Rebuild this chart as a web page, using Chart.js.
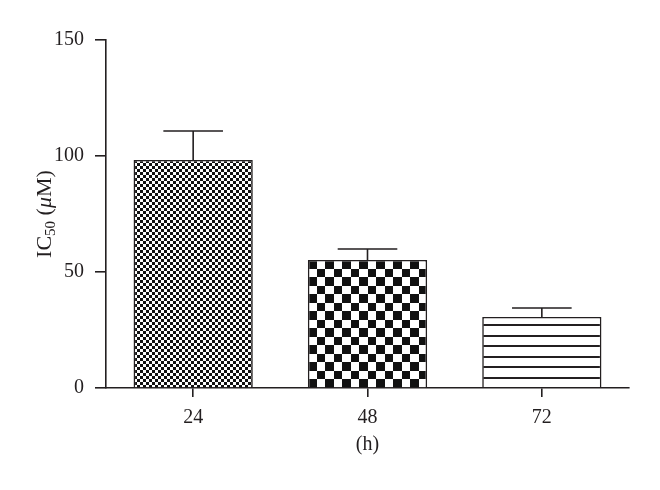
<!DOCTYPE html>
<html>
<head>
<meta charset="utf-8">
<script src="https://cdn.jsdelivr.net/npm/chart.js@4/dist/chart.umd.min.js"></script>
<style>
  body { margin: 0; background: #fff; }
  #wrap { width: 660px; height: 490px; }
</style>
</head>
<body>
<div id="wrap"><canvas id="ic50Chart"></canvas></div>
<script>
// data
const hours = ['24', '48', '72'];
const ic50 = [98.3, 55.2, 30.6];
const ic50Err = [12.5, 4.7, 3.9];
const yTicks = [0, 50, 100, 150];

const ink = '#231f20';
const serif = '"Liberation Serif", "DejaVu Serif", serif';

// fill patterns for the three bars
function checker(size) {
  const c = document.createElement('canvas');
  c.width = c.height = size * 2;
  const g = c.getContext('2d');
  g.fillStyle = '#fff';
  g.fillRect(0, 0, c.width, c.height);
  g.fillStyle = '#111';
  g.fillRect(0, 0, size, size);
  g.fillRect(size, size, size, size);
  return g.createPattern(c, 'repeat');
}

function coarseChecker() {
  // 17px tile, squares of 8 and 9 px -> 8.5 px on average
  const c = document.createElement('canvas');
  c.width = c.height = 17;
  const g = c.getContext('2d');
  g.fillStyle = '#fff';
  g.fillRect(0, 0, 17, 17);
  g.fillStyle = '#111';
  g.fillRect(0, 0, 9, 9);
  g.fillRect(9, 9, 8, 8);
  return g.createPattern(c, 'repeat');
}

function hLines() {
  const c = document.createElement('canvas');
  c.width = 4;
  c.height = 21;
  const g = c.getContext('2d');
  g.fillStyle = '#fff';
  g.fillRect(0, 0, 4, 21);
  g.fillStyle = ink;
  g.fillRect(0, 0, 4, 2);
  g.fillRect(0, 11, 4, 2);
  return g.createPattern(c, 'repeat');
}

const patterns = [checker(3), coarseChecker(), hLines()];

// line the patterns up with the bar edges and baseline
const patternAlign = {
  id: 'patternAlign',
  beforeDatasetsDraw(chart) {
    const y0 = Math.round(chart.scales.y.getPixelForValue(0));
    const bars = chart.getDatasetMeta(0).data;
    patterns.forEach((p, i) => {
      const left = Math.round(bars[i].x - bars[i].width / 2);
      const top = Math.round(bars[i].y);
      const dy = i === 2 ? y0 - 1 : top;
      p.setTransform(new DOMMatrix().translate(left, dy));
    });
  }
};

// upper error whiskers only
const errorBars = {
  id: 'errorBars',
  afterDatasetsDraw(chart) {
    const ctx = chart.ctx;
    const y = chart.scales.y;
    const bars = chart.getDatasetMeta(0).data;
    ctx.save();
    ctx.strokeStyle = ink;
    ctx.lineWidth = 1.6;
    bars.forEach((bar, i) => {
      const top = y.getPixelForValue(ic50[i] + ic50Err[i]);
      const half = bar.width / 4;
      ctx.beginPath();
      ctx.moveTo(bar.x, bar.y);
      ctx.lineTo(bar.x, top);
      ctx.moveTo(bar.x - half, top);
      ctx.lineTo(bar.x + half, top);
      ctx.stroke();
    });
    ctx.restore();
  }
};

// y title with subscript and italic mu
const yTitle = {
  id: 'yTitle',
  afterDraw(chart) {
    const ctx = chart.ctx;
    const area = chart.chartArea;
    const parts = [
      { t: 'IC', f: '22px ' + serif, dy: 0 },
      { t: '50', f: '15px ' + serif, dy: 4 },
      { t: ' (', f: '22px ' + serif, dy: 0 },
      { t: 'μ', f: 'italic 22px ' + serif, dy: 0 },
      { t: 'M)', f: '22px ' + serif, dy: 0 }
    ];
    let total = 0;
    parts.forEach(p => { ctx.font = p.f; p.w = ctx.measureText(p.t).width; total += p.w; });
    ctx.save();
    ctx.translate(51, (area.top + area.bottom) / 2);
    ctx.rotate(-Math.PI / 2);
    ctx.fillStyle = ink;
    ctx.textBaseline = 'alphabetic';
    let x = -total / 2;
    parts.forEach(p => {
      ctx.font = p.f;
      ctx.fillText(p.t, x, p.dy);
      x += p.w;
    });
    ctx.restore();
  }
};

const ctx = document.getElementById('ic50Chart').getContext('2d');
new Chart(ctx, {
  type: 'bar',
  data: {
    labels: hours,
    datasets: [{
      data: ic50,
      backgroundColor: patterns,
      borderColor: ink,
      borderWidth: 1.6,
      categoryPercentage: 1,
      barPercentage: 0.684
    }]
  },
  options: {
    responsive: true,
    maintainAspectRatio: false,
    animation: false,
    events: [],
    layout: { padding: { left: 0, right: 31, top: 40, bottom: 0 } },
    plugins: {
      legend: { display: false },
      tooltip: { enabled: false }
    },
    scales: {
      x: {
        afterFit(scale) { scale.height = 102; },
        grid: {
          display: true,
          drawOnChartArea: false,
          offset: false,
          tickLength: 9,
          color: ink,
          lineWidth: 1.6
        },
        border: { display: true, color: ink, width: 1.6 },
        ticks: {
          color: ink,
          padding: 9,
          font: { family: serif, size: 20 }
        },
        title: {
          display: true,
          text: '(h)',
          color: ink,
          font: { family: serif, size: 20 },
          padding: { top: 0, bottom: 33 }
        }
      },
      y: {
        min: 0,
        max: 150,
        afterFit(scale) { scale.width = 106; },
        afterBuildTicks(scale) { scale.ticks = yTicks.map(v => ({ value: v })); },
        grid: {
          display: true,
          drawOnChartArea: false,
          tickLength: 11,
          color: ink,
          lineWidth: 1.6
        },
        border: { display: true, color: ink, width: 1.6 },
        ticks: {
          color: ink,
          padding: 11,
          font: { family: serif, size: 20 }
        }
      }
    }
  },
  plugins: [patternAlign, errorBars, yTitle]
});
</script>
</body>
</html>
